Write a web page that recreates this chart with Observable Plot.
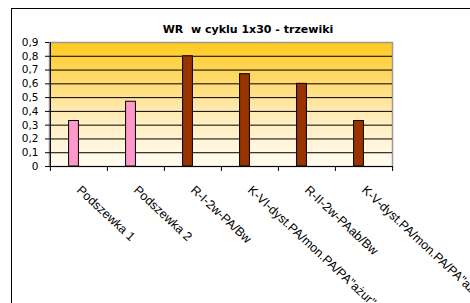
<!DOCTYPE html>
<html><head><meta charset="utf-8">
<script src="https://cdn.jsdelivr.net/npm/d3@7"></script>
<script src="https://cdn.jsdelivr.net/npm/@observablehq/plot@0.6"></script>
<style>
body{margin:0;background:#fff;}
#wrap{position:relative;width:470px;height:303px;overflow:hidden;background:#fff;}
#frame{position:absolute;left:11px;top:8px;width:500px;height:320px;border-left:1px solid #000;border-top:1px solid #000;pointer-events:none;}
#title{position:absolute;top:24px;left:0;width:496px;text-align:center;font:bold 11px "DejaVu Sans";line-height:11px;color:#000;white-space:pre;}
#chart{position:absolute;left:0;top:0;}
</style>
</head><body>
<div id="wrap"><div id="chart"></div><div id="frame"></div><div id="title"></div></div>
<script>
const title = "WR  w cyklu 1x30 - trzewiki";
const categories = ["Podszewka 1", "Podszewka 2", "R-I-2w-PA/Bw", "K-VI-dyst.PA/mon.PA/PA\"ażur\"", "R-II-2w-PAab/Bw", "K-V-dyst.PA/mon.PA/PA\"ażur\""];
const values = [0.33, 0.47, 0.80, 0.67, 0.60, 0.33];
const groups = ["podszewka", "podszewka", "wierzch", "wierzch", "wierzch", "wierzch"];
const yTicks = [0, 0.1, 0.2, 0.3, 0.4, 0.5, 0.6, 0.7, 0.8, 0.9];

document.getElementById("title").textContent = title;

const W = 470, H = 303, mL = 49, mR = 78, mT = 42, mB = 137;
const step = (W - mL - mR) / categories.length;
const data = categories.map((c, i) => ({category: c, value: values[i], group: groups[i]}));
const fmt = d => d === 0 ? "0" : d.toFixed(1).replace(".", ",");

const defs = () => {
  const d = d3.create("svg:defs");
  const lg = d.append("linearGradient").attr("id", "bg").attr("x1", 0).attr("y1", 0).attr("x2", 0).attr("y2", 1);
  [["0%", "#FFCB1F"], ["25%", "#FFD75E"], ["55%", "#FFEAB2"], ["100%", "#FFFCF2"]]
    .forEach(([o, c]) => lg.append("stop").attr("offset", o).attr("stop-color", c));
  return d.node();
};

const chart = Plot.plot({
  width: W, height: H,
  marginLeft: mL, marginRight: mR, marginTop: mT, marginBottom: mB,
  style: {fontFamily: "DejaVu Sans", fontSize: "10px", color: "#000", background: "transparent", overflow: "visible"},
  x: {domain: categories, padding: 0, axis: null},
  y: {domain: [0, 0.9], axis: null},
  color: {domain: ["podszewka", "wierzch"], range: ["#FF99CC", "#993300"]},
  marks: [
    defs,
    Plot.frame({fill: "url(#bg)", stroke: "#999", strokeWidth: 1.5}),
    Plot.gridY(yTicks.slice(1, -1), {stroke: "#000", strokeOpacity: 1, strokeWidth: 1}),
    Plot.barY(data, {x: "category", y: "value", fill: "group", stroke: "#000", strokeWidth: 1,
      insetLeft: step / 2 - 10, insetRight: step / 2}),
    Plot.axisY({ticks: yTicks, tickSize: 4, tickPadding: 7, tickFormat: fmt, fontSize: 10.5, stroke: "#000", label: null}),
    Plot.ruleY([0], {stroke: "#000"}),
    Plot.ruleX(categories.slice(0, 1), {x: d => d, dx: -step / 2, y1: 0, y2: 0.9, stroke: "#000"}),
    Plot.ruleX(categories, {x: d => d, dx: -step / 2, y1: 0, y2: 0, insetBottom: -5, stroke: "#000"}),
    Plot.ruleX(categories.slice(-1), {x: d => d, dx: step / 2, y1: 0, y2: 0, insetBottom: -5, stroke: "#000"}),
    Plot.text(categories, {x: d => d, y: 0, text: d => d, rotate: 43, textAnchor: "start", lineAnchor: "top",
      dx: 3, dy: 18, fontSize: 12.5, fontFamily: "Liberation Sans, Arial, sans-serif", fill: "#000"})
  ]
});
document.getElementById("chart").appendChild(chart);
</script>
</body></html>
